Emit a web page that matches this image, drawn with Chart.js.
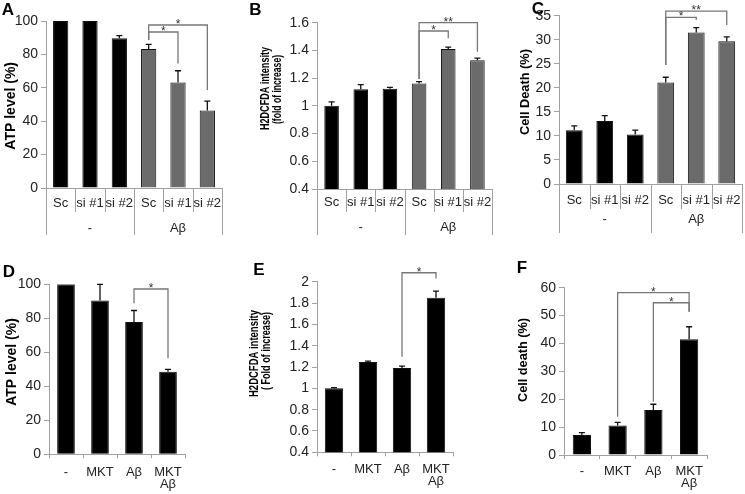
<!DOCTYPE html>
<html>
<head>
<meta charset="utf-8">
<script src="https://cdn.jsdelivr.net/npm/chart.js@4.4.0/dist/chart.umd.min.js"></script>
<style>
  body { margin: 0; background: #fff; }
  .panel { position: absolute; left: 0; top: 0; width: 745px; height: 494px; }
</style>
</head>
<body>
<div class="panel"><canvas id="chartA" width="745" height="494"></canvas></div>
<div class="panel"><canvas id="chartB" width="745" height="494"></canvas></div>
<div class="panel"><canvas id="chartC" width="745" height="494"></canvas></div>
<div class="panel"><canvas id="chartD" width="745" height="494"></canvas></div>
<div class="panel"><canvas id="chartE" width="745" height="494"></canvas></div>
<div class="panel"><canvas id="chartF" width="745" height="494"></canvas></div>
<script>
/* =========================================================
   DATA
========================================================= */
const siLabels  = ["Sc", "si #1", "si #2", "Sc", "si #1", "si #2"];
const siGroups  = ["-", "Aβ"];
const mktLabels = ["-", "MKT", "Aβ", ["MKT", "Aβ"]];

// top row (siRNA)
const atpSi      = [100, 100, 89.6, 83.2, 63.2, 46.4];
const atpSiErr   = [0, 0, 1.6, 2.8, 7.0, 5.6];
const rosSi      = [1.0, 1.119, 1.124, 1.162, 1.41, 1.329];
const rosSiErr   = [0.028, 0.034, 0.010, 0.013, 0.014, 0.016];
const deathSi    = [11.2, 13.1, 10.3, 21.1, 31.5, 29.7];
const deathSiErr = [0.9, 1.1, 0.9, 1.1, 1.0, 0.9];

// bottom row (MKT)
const atpMkt      = [100, 90.4, 77.8, 48.6];
const atpMktErr   = [0, 9.6, 6.8, 1.4];
const rosMkt      = [1.0, 1.247, 1.19, 1.85];
const rosMktErr   = [0.006, 0.009, 0.019, 0.062];
const deathMkt    = [7.2, 10.6, 16.1, 41.5];
const deathMktErr = [0.8, 1.1, 2.1, 4.5];

// y tick ranges
const atpTicks    = { min: 0, max: 100, step: 20 };
const rosTicksB   = { min: 0.4, max: 1.6, step: 0.2 };
const rosTicksE   = { min: 0.4, max: 2.0, step: 0.2 };
const deathTicksC = { min: 0, max: 35, step: 5 };
const deathTicksF = { min: 0, max: 60, step: 10 };

/* =========================================================
   STYLE
========================================================= */
const FONT  = "'Liberation Sans', Arial, Helvetica, sans-serif";
const AXIS  = "#a0a0a0";
const TXT   = "#222";
const BLACK = "#000";
const GRAY  = "#6b6b6b";
const X_H   = 40;   // fixed height of the x scale box

/* =========================================================
   DECORATION PLUGIN (error bars, brackets, titles, tables)
========================================================= */
function makeDeco(cfg) {
  return {
    id: "deco",
    afterDatasetsDraw(chart) {
      const ctx = chart.ctx, x = chart.scales.x, y = chart.scales.y;
      const ds = chart.data.datasets[0];
      ctx.save();
      ctx.strokeStyle = "#111";
      ctx.lineWidth = 1.3;
      ds.data.forEach((v, i) => {
        const e = ds.errors[i];
        if (!e) return;
        const px = x.getPixelForValue(i);
        const y0 = y.getPixelForValue(v), y1 = y.getPixelForValue(v + e);
        ctx.beginPath();
        ctx.moveTo(px, y0); ctx.lineTo(px, y1);
        ctx.moveTo(px - 3, y1); ctx.lineTo(px + 3, y1);
        ctx.stroke();
      });
      ctx.restore();
    },
    afterDraw(chart) {
      const ctx = chart.ctx, x = chart.scales.x, y = chart.scales.y;
      const B = chart.chartArea.bottom;
      ctx.save();

      // panel letter
      ctx.fillStyle = BLACK;
      ctx.font = "bold 17px " + FONT;
      ctx.textAlign = "center";
      ctx.textBaseline = "middle";
      ctx.fillText(cfg.letter[0], cfg.letter[1], cfg.letter[2]);

      // y titles
      ctx.font = "bold " + cfg.titleSize + "px " + FONT;
      cfg.titles.forEach(t => {
        ctx.save();
        ctx.translate(t.x, t.y);
        ctx.rotate(-Math.PI / 2);
        ctx.fillText(t.text, 0, 0, t.w);
        ctx.restore();
      });

      // significance brackets
      ctx.strokeStyle = "#777";
      ctx.lineWidth = 1.3;
      ctx.fillStyle = "#333";
      ctx.font = "12px " + FONT;
      ctx.textBaseline = "alphabetic";
      cfg.brackets.forEach(b => {
        const x0 = x.getPixelForValue(b.from), x1 = x.getPixelForValue(b.to);
        const yt = y.getPixelForValue(b.top);
        ctx.beginPath();
        ctx.moveTo(x0, y.getPixelForValue(b.legFrom));
        ctx.lineTo(x0, yt);
        ctx.lineTo(x1, yt);
        ctx.lineTo(x1, y.getPixelForValue(b.legTo));
        ctx.stroke();
        ctx.fillText(b.text, (x0 + x1) / 2, yt + 3);
      });

      // two-level category table under the top panels
      if (cfg.table) {
        const tb = cfg.table;
        const n = cfg.labels.length;
        ctx.strokeStyle = AXIS;
        ctx.lineWidth = 1;
        for (let i = 0; i <= n; i++) {
          const xb = Math.round(x.getPixelForValue(i - 0.5)) + 0.5;
          const long = i % 3 === 0;
          ctx.beginPath();
          ctx.moveTo(xb, B);
          ctx.lineTo(xb, B + (long ? tb.outer : tb.inner));
          ctx.stroke();
        }
        ctx.fillStyle = TXT;
        ctx.font = "13px " + FONT;
        ctx.textBaseline = "middle";
        cfg.labels.forEach((l, i) => {
          ctx.fillText(l, x.getPixelForValue(i), B + tb.label);
        });
        siGroups.forEach((g, k) => {
          const xc = x.getPixelForValue(k * 3 + 1);
          ctx.fillText(g, xc, B + tb.group);
        });
      }
      ctx.restore();
    }
  };
}

/* =========================================================
   PANEL BUILDER
========================================================= */
function panel(id, cfg) {
  const a = cfg.area;
  const r = cfg.range;
  const multi = !!cfg.table;
  return new Chart(document.getElementById(id), {
    type: "bar",
    data: {
      labels: cfg.labels,
      datasets: [{
        data: cfg.values,
        errors: cfg.errors,
        backgroundColor: cfg.colors,
        borderColor: "#111",
        borderWidth: 1,
        barPercentage: cfg.barPct,
        categoryPercentage: 1
      }]
    },
    options: {
      responsive: false,
      animation: false,
      events: [],
      layout: { padding: { left: a.L - 40, top: a.T, right: 745 - a.R, bottom: 494 - a.B - X_H } },
      plugins: { legend: { display: false }, tooltip: { enabled: false } },
      scales: {
        x: {
          offset: true,
          border: { display: true, color: AXIS },
          grid: multi
            ? { display: false }
            : { display: true, drawOnChartArea: false, offset: true, tickLength: 4, color: AXIS },
          ticks: multi
            ? { display: false }
            : { color: TXT, font: { family: FONT, size: 13, lineHeight: 0.95 }, padding: cfg.tickPad, maxRotation: 0, minRotation: 0, autoSkip: false },
          afterFit: s => { s.height = X_H; }
        },
        y: {
          min: r.min,
          max: r.max,
          border: { display: true, color: AXIS },
          grid: { drawOnChartArea: false, tickLength: 5, color: AXIS },
          ticks: {
            stepSize: r.step,
            color: TXT,
            padding: 3,
            font: { family: FONT, size: 14 },
            callback: v => String(Math.round(v * 10) / 10)
          },
          afterFit: s => { s.width = 40; }
        }
      }
    },
    plugins: [makeDeco(cfg)]
  });
}

const siColors  = [BLACK, BLACK, BLACK, GRAY, GRAY, GRAY];
const mktColors = [BLACK, BLACK, BLACK, BLACK];

/* =========================================================
   INIT
========================================================= */
panel("chartA", {
  labels: siLabels, values: atpSi, errors: atpSiErr, colors: siColors, range: atpTicks,
  area: { L: 46, T: 21, R: 222, B: 188 }, barPct: 0.52,
  table: { inner: 24, outer: 47, label: 15, group: 40 },
  letter: ["A", 8, 10], titleSize: 14,
  titles: [{ text: "ATP level (%)", x: 11.5, y: 105.8, w: 88 }],
  brackets: [
    { from: 3, to: 5, top: 97.6, legFrom: 88.6, legTo: 58.7, text: "*" },
    { from: 3, to: 4, top: 93.4, legFrom: 88.6, legTo: 74.6, text: "*" }
  ]
});

panel("chartB", {
  labels: siLabels, values: rosSi, errors: rosSiErr, colors: siColors, range: rosTicksB,
  area: { L: 317, T: 22.7, R: 492, B: 189 }, barPct: 0.5,
  table: { inner: 23, outer: 46, label: 13, group: 38 },
  letter: ["B", 255.5, 10], titleSize: 13.5,
  titles: [
    { text: "H2DCFDA intensity", x: 265, y: 88.5, w: 83 },
    { text: "(fold of increase)", x: 277, y: 89.5, w: 69 }
  ],
  brackets: [
    { from: 3, to: 5, top: 1.6, legFrom: 1.194, legTo: 1.391, text: "**" },
    { from: 3, to: 4, top: 1.54, legFrom: 1.194, legTo: 1.487, text: "*" }
  ]
});

panel("chartC", {
  labels: siLabels, values: deathSi, errors: deathSiErr, colors: siColors, range: deathTicksC,
  area: { L: 559, T: 15.7, R: 742, B: 184 }, barPct: 0.55,
  table: { inner: 25, outer: 49, label: 16, group: 35 },
  letter: ["C", 538, 9], titleSize: 13.5,
  titles: [{ text: "Cell Death (%)", x: 525, y: 92, w: 86 }],
  brackets: [
    { from: 3, to: 5, top: 35.97, legFrom: 24.74, legTo: 33.06, text: "**" },
    { from: 3, to: 4, top: 34.65, legFrom: 24.74, legTo: 34.1, text: "*" }
  ]
});

panel("chartD", {
  labels: mktLabels, values: atpMkt, errors: atpMktErr, colors: mktColors, range: atpTicks,
  area: { L: 49, T: 284.3, R: 185, B: 454.3 }, barPct: 0.52, tickPad: 7.5,
  letter: ["D", 9, 272.5], titleSize: 14,
  titles: [{ text: "ATP level (%)", x: 12, y: 362, w: 88 }],
  brackets: [
    { from: 2, to: 3, top: 97.25, legFrom: 88.8, legTo: 56.5, text: "*" }
  ]
});

panel("chartE", {
  labels: mktLabels, values: rosMkt, errors: rosMktErr, colors: mktColors, range: rosTicksE,
  area: { L: 317, T: 281.7, R: 453, B: 452.3 }, barPct: 0.54, tickPad: 7,
  letter: ["E", 259, 270], titleSize: 13.5,
  titles: [
    { text: "H2DCFDA intensity", x: 254, y: 353.5, w: 87 },
    { text: "( Fold of increase)", x: 266, y: 351, w: 78 }
  ],
  brackets: [
    { from: 2, to: 3, top: 2.084, legFrom: 1.297, legTo: 2.031, text: "*" }
  ]
});

panel("chartF", {
  labels: mktLabels, values: deathMkt, errors: deathMktErr, colors: mktColors, range: deathTicksF,
  area: { L: 564, T: 287.7, R: 707, B: 455 }, barPct: 0.51, tickPad: 6,
  letter: ["F", 522, 268], titleSize: 13.5,
  titles: [{ text: "Cell death (%)", x: 523, y: 360, w: 84 }],
  brackets: [
    { from: 1, to: 3, top: 58.2, legFrom: 13.75, legTo: 51.4, text: "*" },
    { from: 2, to: 3, top: 54.6, legFrom: 19.1, legTo: 51.4, text: "*" }
  ]
});
</script>
</body>
</html>
